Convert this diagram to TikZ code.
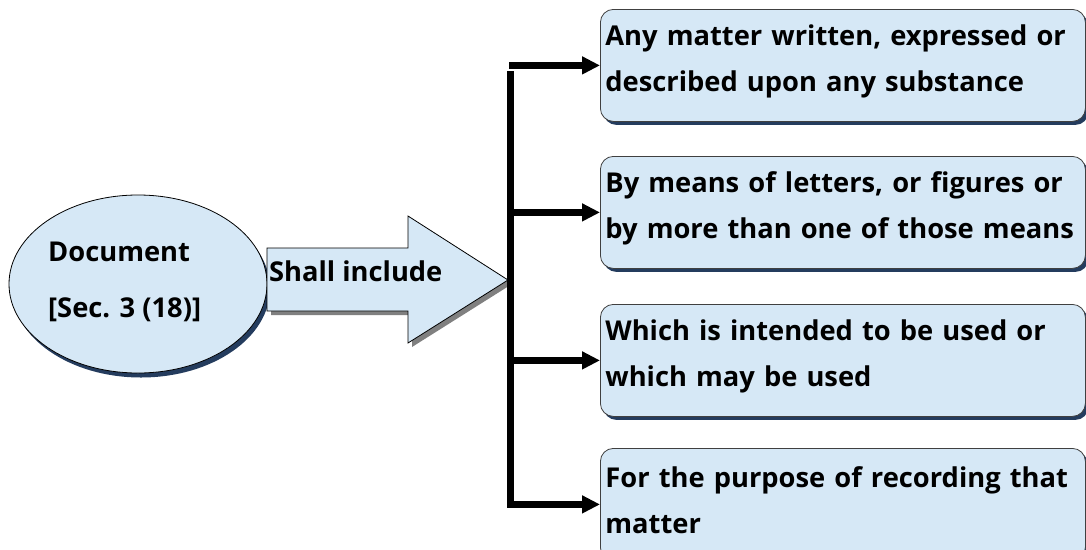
\documentclass[tikz,border=0pt]{standalone}
\usepackage{fontspec}
\setmainfont{Open Sans}
\usetikzlibrary{arrows.meta,shapes.geometric,shadows,calc}
\definecolor{boxfill}{RGB}{214,232,246}
\definecolor{navy}{RGB}{36,60,94}
\definecolor{ashadow}{RGB}{128,128,128}
\begin{document}
\begin{tikzpicture}[x=1pt,y=-1pt,
  txt/.style={font=\bfseries\fontsize{27.3}{46}\selectfont, text=black},
  navyshadow/.style={drop shadow={shadow xshift=3pt, shadow yshift=-3.5pt, fill=navy, opacity=1}},
  itembox/.style={txt, draw=black!75, line width=0.8pt, fill=boxfill, rounded corners=13pt,
    minimum width=485pt, minimum height=112pt, text width=475pt, inner xsep=5pt,
    align=left, anchor=north west, navyshadow},
  conn/.style={line width=6.5pt, -{Triangle[length=18pt,width=17pt]}}]
\useasboundingbox (0,0) rectangle (1086,549);
\clip (0,0) rectangle (1086,549);
% ellipse
\node[ellipse, draw=black, line width=0.8pt, fill=boxfill, minimum width=258pt,
  minimum height=178pt, drop shadow={shadow xshift=3pt, shadow yshift=-4.5pt, fill=navy, opacity=1}] (doc) at (138,284) {};
\node[txt, anchor=west, align=left, inner sep=0pt, font=\bfseries\fontsize{27.3}{56}\selectfont] (doctxt) at (48,282) {Document\\{[Sec. 3 (18)]}};
% block arrow
\filldraw[draw=black, line width=0.8pt, fill=boxfill,
  drop shadow={shadow xshift=4pt, shadow yshift=-4pt, fill=ashadow, opacity=1}]
  (267,248) -- (408,248) -- (408,216) -- (508,280) -- (408,343) -- (408,311) -- (267,311) -- cycle;
\coordinate (inctip) at (508,280);
\node[txt, anchor=west, inner sep=0pt] (inc) at (269,271) {Shall include};
% boxes
\node[itembox] (b1) at (600,9) {Any matter written, expressed or\\described upon any substance\par\vspace*{8pt}};
\node[itembox] (b2) at (600,156) {By means of letters, or figures or\\by more than one of those means\par\vspace*{8pt}};
\node[itembox] (b3) at (600,304) {Which is intended to be used or\\which may be used\par\vspace*{8pt}};
\node[itembox] (b4) at (600,448) {For the purpose of recording that\\matter\par\vspace*{8pt}};
% spine and connectors
\coordinate (spx) at (510.5,0);
\draw[line width=6.5pt] ($(spx|-b1.west)+(0,6)$) -- ($(spx|-b4.west)+(0,3.25)$);
\draw[conn] ($(spx|-b1.west)+(-1.5,0)$) -- (b1.west);
\draw[conn] (spx|-b2.west) -- (b2.west);
\draw[conn] (spx|-b3.west) -- (b3.west);
\draw[conn] ($(spx|-b4.west)+(-3.25,0)$) -- (b4.west);
\end{tikzpicture}
\end{document}
